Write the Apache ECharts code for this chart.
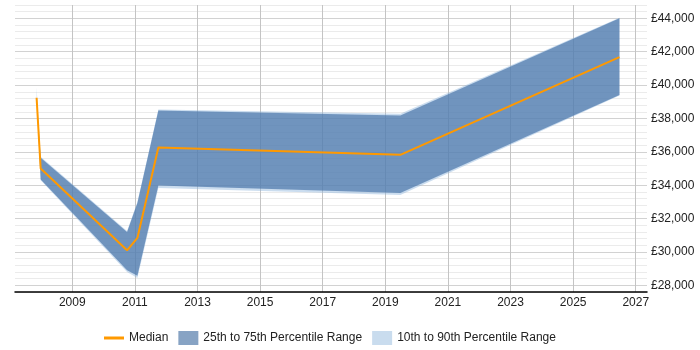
<!DOCTYPE html>
<html>
<head>
<meta charset="utf-8">
<script src="https://cdn.jsdelivr.net/npm/echarts@6/dist/echarts.min.js"></script>
<style>html,body{margin:0;padding:0;background:#fff}#c{width:700px;height:350px}</style>
</head>
<body>
<div id="c"></div>
<script>
const years  = [2007.86, 2007.99, 2010.75, 2011.08, 2011.75, 2019.48, 2026.48];
const median = [39240, 35000, 30100, 30840, 36260, 35820, 41680];
const p25    = [39240, 34340, 28900, 28580, 33980, 33540, 39400];
const p75    = [39240, 35640, 31200, 32940, 38480, 38180, 44000];
const p10    = [39240, 34300, 28800, 28440, 33840, 33420, 39380];
const p90    = [39840, 35700, 31260, 33000, 38540, 38280, 44040];
const xTickYears = [2009, 2011, 2013, 2015, 2017, 2019, 2021, 2023, 2025, 2027];

const FONT = 'Arial, "Liberation Sans", sans-serif';
const NAME_MED = 'Median';
const NAME_IQR = '25th to 75th Percentile Range';
const NAME_DEC = '10th to 90th Percentile Range';

// band drawn as one polygon through the axis scales
function bandSeries(name, lo, hi, color) {
  return {
    name: name, type: 'custom', silent: true,
    itemStyle: {color: color},
    data: years.map((y, i) => [y, lo[i], hi[i]]),
    encode: {x: 0, y: [1, 2]},
    renderItem: function (params, api) {
      if (params.dataIndex !== 0) return null;
      const pts = [];
      for (let i = 0; i < years.length; i++) pts.push(api.coord([years[i], hi[i]]));
      for (let i = years.length - 1; i >= 0; i--) pts.push(api.coord([years[i], lo[i]]));
      return {type: 'polygon', shape: {points: pts}, style: {fill: color}};
    }
  };
}

const chart = echarts.init(document.getElementById('c'), null, {renderer: 'canvas'});
chart.setOption({
  animation: false,
  textStyle: {fontFamily: FONT},
  grid: {left: 15, right: 53, top: 5, bottom: 58, containLabel: false},
  legend: {
    left: 99, top: 326,
    itemWidth: 20, itemHeight: 14, itemGap: 10,
    symbolKeepAspect: true,
    textStyle: {fontSize: 12, color: '#222', fontFamily: FONT},
    data: [
      {name: NAME_MED, icon: 'path://M0,0 L20,0 L20,3 L0,3 Z', itemStyle: {color: '#ff9900'}},
      {name: NAME_IQR, icon: 'rect', itemStyle: {color: '#87a3c4'}},
      {name: NAME_DEC, icon: 'rect', itemStyle: {color: '#c9dcee'}}
    ]
  },
  xAxis: {
    type: 'value', min: 2007.17, max: 2027.36,
    axisLine: {show: true, onZero: false, lineStyle: {color: '#000', width: 1.5}},
    axisTick: {show: false, customValues: xTickYears},
    axisLabel: {customValues: xTickYears, color: '#222', fontSize: 12, margin: 5, fontFamily: FONT,
                formatter: v => String(Math.round(v))},
    splitLine: {show: true, lineStyle: {color: '#c4c4c4', width: 1}}
  },
  yAxis: {
    type: 'value', position: 'right', min: 27600, max: 44800, interval: 400,
    axisLine: {show: false}, axisTick: {show: false},
    axisLabel: {interval: 0, color: '#222', fontSize: 12, margin: 4, fontFamily: FONT,
      formatter: v => { const r = Math.round(v); return r % 2000 === 0 ? '£' + r.toLocaleString('en-GB') : ''; }},
    splitLine: {show: true, lineStyle: {color: ['#ebebeb', '#d2d2d2', '#ebebeb', '#ebebeb', '#ebebeb'], width: 1}}
  },
  series: [
    bandSeries(NAME_DEC, p10, p90, 'rgba(140,180,220,0.45)'),
    bandSeries(NAME_IQR, p25, p75, 'rgba(69,114,167,0.67)'),
    {name: NAME_MED, type: 'line', data: years.map((y, i) => [y, median[i]]), symbol: 'none',
     lineStyle: {color: '#ff9900', width: 2}, itemStyle: {color: '#ff9900'}, z: 5}
  ]
});
</script>
</body>
</html>
